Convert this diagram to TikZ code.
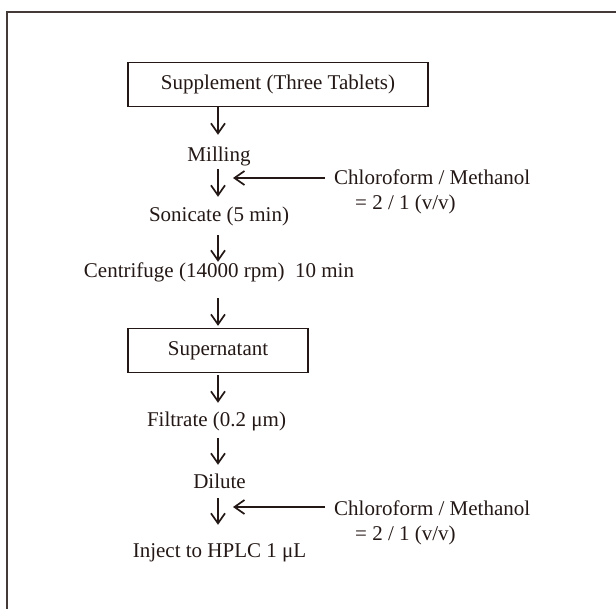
\documentclass[tikz,border=0pt]{standalone}
\usepackage{fontspec}
\setmainfont{Liberation Serif}
\usepackage{tikz}
\usetikzlibrary{arrows.meta, positioning, calc}
\definecolor{inkcol}{HTML}{231815}

\begin{document}
\begin{tikzpicture}[
    x=1pt, y=-1pt,
    txt/.style   = {inner sep=0pt, text height=15pt, text depth=5pt,
                    font=\fontsize{21}{25}\selectfont, text=inkcol},
    pbox/.style  = {txt, draw=inkcol, line width=1.3pt,
                    minimum height=44pt},
    arr/.style   = {-{Straight Barb[length=10pt,width=14pt]},
                    line width=1.7pt, color=inkcol},
    frame/.style = {line width=1.2pt, color=inkcol!85}
  ]
  \useasboundingbox (0,0) rectangle (616,609);

  %% frame
  \draw[frame] (7,609) -- (7,12) -- (616,12);

  %% main column
  \coordinate (col) at (218,0);
  \node[pbox, minimum width=300pt] (sup) at (278,84.7)
        {Supplement (Three Tablets)};
  \node[txt, anchor=base] (mill) at (219,162) {Milling};
  \node[txt, anchor=base] (son)  at (219,222) {Sonicate (5 min)};
  \node[txt, anchor=base] (cen)  at (219,278)
        {Centrifuge (14000 rpm)\ \ 10 min};
  \node[pbox, minimum width=180pt] (supn) at (218,350.5) {Supernatant};
  \node[txt, anchor=base] (filt) at (216.5,427) {Filtrate (0.2 μm)};
  \node[txt, anchor=base] (dil)  at (219.5,488) {Dilute};
  \node[txt, anchor=base] (inj)  at (219.5,557) {Inject to HPLC 1 μL};

  %% solvent additions
  \node[txt, anchor=base west] (sol1) at (334,185) {Chloroform / Methanol};
  \node[txt, anchor=base west] (rat1) at (355,210) {= 2 / 1 (v/v)};
  \node[txt, anchor=base west] (sol2) at (334,515) {Chloroform / Methanol};
  \node[txt, anchor=base west] (rat2) at (355,540) {= 2 / 1 (v/v)};
  \coordinate (in1) at (233,178);
  \coordinate (in2) at (233,507);

  %% Arrows
  \draw[arr] (sup.south -| col) -- ([yshift=12pt]mill.north -| col);
  \draw[arr] ([yshift=-2pt]mill.south -| col) --
        ([yshift=10pt]son.north -| col);
  \draw[arr] ([yshift=-8pt]son.south -| col) --
        ([yshift=1pt]cen.north -| col);
  \draw[arr] ([yshift=-15pt]cen.south -| col) --
        ([yshift=2pt]supn.north -| col);
  \draw[arr] ([yshift=-2pt]supn.south -| col) --
        ([yshift=9pt]filt.north -| col);
  \draw[arr] ([yshift=-6pt]filt.south -| col) --
        ([yshift=8pt]dil.north -| col);
  \draw[arr] ([yshift=-5pt]dil.south -| col) --
        ([yshift=17pt]inj.north -| col);
  \draw[arr] ([xshift=-9pt]sol1.west |- in1) -- (in1);
  \draw[arr] ([xshift=-9pt]sol2.west |- in2) -- (in2);

\end{tikzpicture}
\end{document}
